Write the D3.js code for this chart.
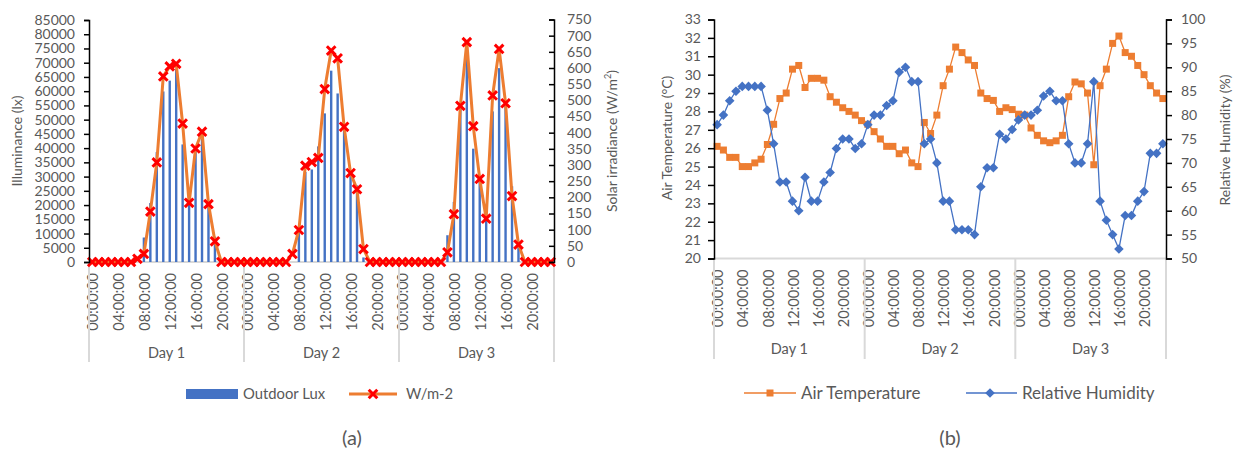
<!DOCTYPE html>
<html>
<head>
<meta charset="utf-8">
<script src="https://cdn.jsdelivr.net/npm/d3@7"></script>
<style>
  html, body { margin: 0; padding: 0; background: #fff; }
  svg { display: block; font-family: Lato, "Open Sans", sans-serif; }
  text { fill: #595959; }
</style>
</head>
<body>
<svg id="chart" width="1239" height="454"></svg>
<script>
// ---- data -------------------------------------------------------------
const days = ["Day 1", "Day 2", "Day 3"];
const hourLabels = d3.range(24).map(h => String(h).padStart(2, "0") + ":00:00");
const categories = days.flatMap(d => hourLabels.map(h => d + " " + h));

// Outdoor illuminance (lx), hourly
const outdoorLux = [
  0, 0, 0, 0, 0, 0, 0, 0, 8600, 20700, 38600, 59900, 63700, 67700, 41300, 21100, 39200, 43300, 20500, 8900, 0, 0, 0, 0,
  0, 0, 0, 0, 0, 0, 0, 0, 10200, 31600, 32500, 40600, 52200, 67200, 59200, 46200, 30400, 26900, 1600, 0, 0, 0, 0, 0,
  0, 0, 0, 0, 0, 0, 0, 9400, 21100, 54900, 71800, 39800, 29800, 15900, 52900, 68100, 55500, 26600, 7100, 0, 0, 0, 0, 0
];
// Solar irradiance (W/m2), hourly
const solarIrradiance = [
  0, 0, 0, 0, 0, 0, 0, 10, 25, 156, 308, 574, 605, 613, 428, 183, 351, 403, 179, 64, 0, 0, 0, 0,
  0, 0, 0, 0, 0, 0, 0, 25, 99, 298, 309, 322, 535, 654, 630, 418, 275, 225, 40, 0, 0, 0, 0, 0,
  0, 0, 0, 0, 0, 0, 0, 30, 148, 483, 680, 420, 257, 134, 515, 659, 491, 204, 54, 0, 0, 0, 0, 0
];
// Air temperature (°C), hourly
const airTemperature = [
  26.1, 25.9, 25.5, 25.5, 25.0, 25.0, 25.2, 25.4, 26.2, 27.3, 28.7, 29.0, 30.3, 30.5, 29.3, 29.8, 29.8, 29.7, 28.8, 28.5, 28.2, 28.0, 27.8, 27.5,
  27.3, 26.9, 26.5, 26.1, 26.1, 25.7, 25.9, 25.2, 25.0, 27.4, 26.8, 27.8, 29.4, 30.3, 31.5, 31.2, 30.8, 30.5, 29.0, 28.7, 28.6, 28.0, 28.2, 28.1,
  27.85, 27.8, 27.1, 26.7, 26.4, 26.3, 26.4, 26.7, 28.8, 29.6, 29.5, 29.0, 25.1, 29.4, 30.3, 31.7, 32.1, 31.2, 31.0, 30.5, 30.0, 29.4, 29.0, 28.7
];
// Relative humidity (%), hourly
const relativeHumidity = [
  78, 80, 83, 85, 86, 86, 86, 86, 81, 74, 66, 66, 62, 60, 67, 62, 62, 66, 68, 73, 75, 75, 73, 74,
  78, 80, 80, 82, 83, 89, 90, 87, 87, 74, 75, 70, 62, 62, 56, 56, 56, 55, 65, 69, 69, 76, 75, 77,
  79, 80, 80, 81, 84, 85, 83, 83, 74, 70, 70, 74, 87, 62, 58, 55, 52, 59, 59, 62, 64, 72, 72, 74
];

const luxTicks = d3.range(0, 85001, 5000);
const irradianceTicks = d3.range(0, 751, 50);
const temperatureTicks = d3.range(20, 34, 1);
const humidityTicks = d3.range(50, 101, 5);

// ---- styles -----------------------------------------------------------
const BLUE = "#4472C4", ORANGE = "#ED7D31", RED = "#FF0000";
const AXIS_GREY = "#D9D9D9", TEXT = "#595959";
const FONT = 14;

const svg = d3.select("#chart");

// draws the two-level (hour / day) category axis shared by both panels
function categoryAxis(g, x, y0, dayLabelY, sepBottom) {
  const bw = x.bandwidth();
  const [r0, r1] = x.range();
  g.append("line").attr("x1", r0).attr("x2", r1).attr("y1", y0).attr("y2", y0)
    .attr("stroke", AXIS_GREY).attr("stroke-width", 2);
  g.selectAll("text.hour")
    .data(categories.filter((c, i) => (i % 24) % 4 === 0))
    .join("text").attr("class", "hour")
    .attr("transform", d => `translate(${x(d) + bw / 2 + 1},${y0 + 11}) rotate(-90)`)
    .attr("text-anchor", "end").attr("dy", "0.36em")
    .attr("font-size", FONT + 0.5)
    .text(d => d.slice(6));
  const bounds = [0, 24, 48].map(i => x(categories[i])).concat([r1]);
  g.selectAll("line.sep").data(bounds).join("line").attr("class", "sep")
    .attr("x1", d => d).attr("x2", d => d).attr("y1", y0).attr("y2", sepBottom)
    .attr("stroke", AXIS_GREY).attr("stroke-width", 2);
  g.selectAll("text.day").data(days).join("text").attr("class", "day")
    .attr("x", (d, i) => (bounds[i] + bounds[i + 1]) / 2).attr("y", dayLabelY)
    .attr("text-anchor", "middle").attr("dy", "0.35em").attr("font-size", FONT + 0.5)
    .text(d => d);
}

function styleValueAxis(g) {
  g.select(".domain").attr("stroke", "#000").attr("stroke-width", 1.5);
  g.selectAll(".tick line").attr("stroke", "#000").attr("stroke-width", 1.5);
  g.selectAll(".tick text").attr("fill", TEXT).attr("font-size", FONT)
    .attr("font-family", "Lato, 'Open Sans', sans-serif");
}

// X-shaped marker used for the irradiance series
const xMarker = d3.symbol().type(d3.symbolX).size(50);
// square-proportioned diamond used for the humidity series
const diamondPath = r => `M0,${-r}L${r},0L0,${r}L${-r},0Z`;

// ======================= panel (a) =====================================
{
  const x = d3.scaleBand().domain(categories).range([89, 554]);
  const yL = d3.scaleLinear().domain([0, 85000]).range([262, 20]);
  const yR = d3.scaleLinear().domain([0, 750]).range([262, 19.5]);
  const bw = x.bandwidth();
  const cx = d => x(d) + bw / 2;
  const g = svg.append("g");

  categoryAxis(g, x, 262, 353, 362);

  // bars
  g.selectAll("rect.bar").data(categories).join("rect").attr("class", "bar")
    .attr("x", d => cx(d) - 1.2).attr("width", 2.4)
    .attr("y", (d, i) => yL(outdoorLux[i]))
    .attr("height", (d, i) => 262 - yL(outdoorLux[i]))
    .attr("fill", BLUE);

  // irradiance line + markers
  const line = d3.line().x((d, i) => cx(categories[i])).y(d => yR(d));
  g.append("path").datum(solarIrradiance).attr("d", line)
    .attr("fill", "none").attr("stroke", ORANGE).attr("stroke-width", 3)
    .attr("stroke-linejoin", "round");
  g.selectAll("path.mk").data(solarIrradiance).join("path").attr("class", "mk")
    .attr("transform", (d, i) => `translate(${cx(categories[i])},${yR(d)})`)
    .attr("d", xMarker).attr("fill", "none").attr("stroke", RED).attr("stroke-width", 3);

  g.append("g").attr("transform", "translate(89,0)")
    .call(d3.axisLeft(yL).tickValues(luxTicks).tickSize(5).tickPadding(9).tickFormat(d3.format("d")))
    .call(styleValueAxis);
  g.append("g").attr("transform", "translate(554,0)")
    .call(d3.axisRight(yR).tickValues(irradianceTicks).tickSize(-5).tickPadding(13).tickFormat(d3.format("d")))
    .call(styleValueAxis);

  g.append("text").attr("transform", "translate(17,141) rotate(-90)")
    .attr("text-anchor", "middle").attr("dy", "0.35em").attr("font-size", FONT)
    .text("Illuminance (lx)");
  const t = g.append("text").attr("transform", "translate(612,141) rotate(-90)")
    .attr("text-anchor", "middle").attr("dy", "0.35em").attr("font-size", FONT)
    .text("Solar irradiance (W/m");
  t.append("tspan").attr("font-size", 9).attr("dy", "-0.7em").text("2");
  t.append("tspan").attr("dy", "0.45em").text(")");

  // legend
  const lg = g.append("g");
  lg.append("rect").attr("x", 186).attr("y", 389).attr("width", 52).attr("height", 10).attr("fill", BLUE);
  lg.append("text").attr("x", 243).attr("y", 394).attr("dy", "0.35em").attr("font-size", 14.8).text("Outdoor Lux");
  lg.append("line").attr("x1", 349).attr("x2", 397).attr("y1", 394).attr("y2", 394)
    .attr("stroke", ORANGE).attr("stroke-width", 3);
  lg.append("path").attr("transform", "translate(373,394)").attr("d", xMarker)
    .attr("fill", "none").attr("stroke", RED).attr("stroke-width", 3);
  lg.append("text").attr("x", 406).attr("y", 394).attr("dy", "0.35em").attr("font-size", 14.8).text("W/m-2");

  g.append("text").attr("x", 352).attr("y", 438).attr("dy", "0.35em")
    .attr("text-anchor", "middle").attr("font-size", 20).text("(a)");
}

// ======================= panel (b) =====================================
{
  const x = d3.scaleBand().domain(categories).range([714, 1166]);
  const yT = d3.scaleLinear().domain([20, 33]).range([258.5, 19.5]);
  const yH = d3.scaleLinear().domain([50, 100]).range([258.5, 19.5]);
  const bw = x.bandwidth();
  const cx = d => x(d) + bw / 2;
  const g = svg.append("g");

  categoryAxis(g, x, 258.5, 349, 359);

  const sq = d3.symbol().type(d3.symbolSquare).size(49);

  const lineT = d3.line().x((d, i) => cx(categories[i])).y(d => yT(d));
  const lineH = d3.line().x((d, i) => cx(categories[i])).y(d => yH(d));

  g.append("path").datum(airTemperature).attr("d", lineT)
    .attr("fill", "none").attr("stroke", ORANGE).attr("stroke-width", 1.3);
  g.selectAll("path.t").data(airTemperature).join("path").attr("class", "t")
    .attr("transform", (d, i) => `translate(${cx(categories[i])},${yT(d)})`)
    .attr("d", sq).attr("fill", ORANGE);

  g.append("path").datum(relativeHumidity).attr("d", lineH)
    .attr("fill", "none").attr("stroke", BLUE).attr("stroke-width", 1.3);
  g.selectAll("path.h").data(relativeHumidity).join("path").attr("class", "h")
    .attr("transform", (d, i) => `translate(${cx(categories[i])},${yH(d)})`)
    .attr("d", diamondPath(4.8)).attr("fill", BLUE);

  g.append("g").attr("transform", "translate(714,0)")
    .call(d3.axisLeft(yT).tickValues(temperatureTicks).tickSize(6).tickPadding(7))
    .call(styleValueAxis);
  g.append("g").attr("transform", "translate(1166,0)")
    .call(d3.axisRight(yH).tickValues(humidityTicks).tickSize(6).tickPadding(9))
    .call(styleValueAxis);

  g.append("text").attr("transform", "translate(667,138) rotate(-90)")
    .attr("text-anchor", "middle").attr("dy", "0.35em").attr("font-size", FONT)
    .text("Air Temperature (°C)");
  g.append("text").attr("transform", "translate(1225,140) rotate(-90)")
    .attr("text-anchor", "middle").attr("dy", "0.35em").attr("font-size", FONT)
    .text("Relative Humidity (%)");

  const lg = g.append("g");
  lg.append("line").attr("x1", 744).attr("x2", 796).attr("y1", 393).attr("y2", 393)
    .attr("stroke", ORANGE).attr("stroke-width", 1.3);
  lg.append("path").attr("transform", "translate(770,393)").attr("d", sq).attr("fill", ORANGE);
  lg.append("text").attr("x", 801).attr("y", 393).attr("dy", "0.35em").attr("font-size", 17).text("Air Temperature");
  lg.append("line").attr("x1", 966).attr("x2", 1017).attr("y1", 393).attr("y2", 393)
    .attr("stroke", BLUE).attr("stroke-width", 1.3);
  lg.append("path").attr("transform", "translate(990,393)").attr("d", diamondPath(4.8)).attr("fill", BLUE);
  lg.append("text").attr("x", 1022).attr("y", 393).attr("dy", "0.35em").attr("font-size", 17).text("Relative Humidity");

  g.append("text").attr("x", 950).attr("y", 438).attr("dy", "0.35em")
    .attr("text-anchor", "middle").attr("font-size", 20).text("(b)");
}
</script>
</body>
</html>
